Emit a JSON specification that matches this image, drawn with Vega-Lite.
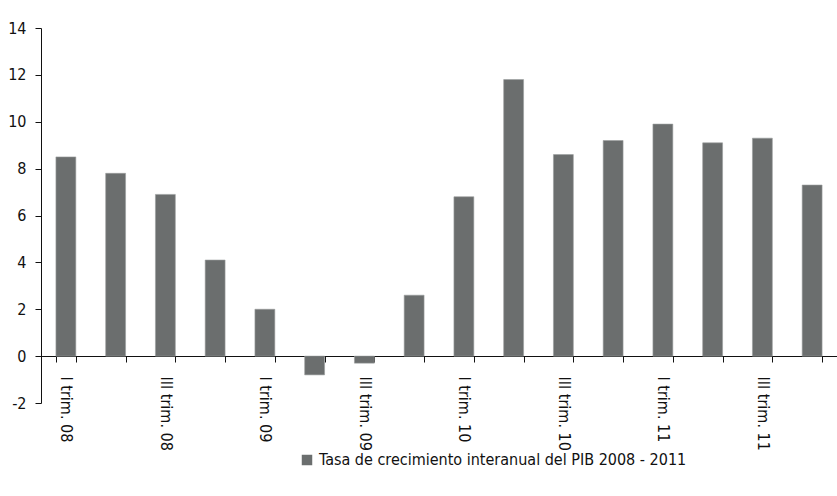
{
  "$schema": "https://vega.github.io/schema/vega-lite/v6.json",
  "width": 796,
  "height": 375,
  "autosize": "none",
  "padding": {"left": 41, "top": 28, "right": 0, "bottom": 93},
  "background": "white",
  "config": {
    "view": {"stroke": null},
    "font": "DejaVu Sans Condensed, Roboto, sans-serif",
    "axis": {"labelFont": "DejaVu Sans Condensed, Roboto, sans-serif", "labelFontSize": 16, "labelColor": "#111", "domainColor": "#111", "tickColor": "#111", "grid": false, "title": null}
  },
  "data": {
    "values": [
      {"trimestre": "I trim. 08", "valor": 8.5},
      {"trimestre": "II trim. 08", "valor": 7.8},
      {"trimestre": "III trim. 08", "valor": 6.9},
      {"trimestre": "IV trim. 08", "valor": 4.1},
      {"trimestre": "I trim. 09", "valor": 2.0},
      {"trimestre": "II trim. 09", "valor": -0.8},
      {"trimestre": "III trim. 09", "valor": -0.3},
      {"trimestre": "IV trim. 09", "valor": 2.6},
      {"trimestre": "I trim. 10", "valor": 6.8},
      {"trimestre": "II trim. 10", "valor": 11.8},
      {"trimestre": "III trim. 10", "valor": 8.6},
      {"trimestre": "IV trim. 10", "valor": 9.2},
      {"trimestre": "I trim. 11", "valor": 9.9},
      {"trimestre": "II trim. 11", "valor": 9.1},
      {"trimestre": "III trim. 11", "valor": 9.3},
      {"trimestre": "IV trim. 11", "valor": 7.3}
    ]
  },
  "transform": [{"calculate": "'Tasa de crecimiento interanual del PIB 2008 - 2011'", "as": "serie"}],
  "mark": {"type": "bar", "stroke": "#9a9d9d", "strokeWidth": 0.6},
  "encoding": {
    "x": {
      "field": "trimestre",
      "type": "nominal",
      "sort": null,
      "scale": {"paddingInner": 0.6, "paddingOuter": 0.3},
      "axis": {
        "offset": -47,
        "labelAngle": 90,
        "tickBand": "extent",
        "tickSize": 6,
        "labelPadding": 14,
        "labelExpr": "test(/^(I|III) trim/, datum.label) ? datum.label : ''"
      }
    },
    "y": {
      "field": "valor",
      "type": "quantitative",
      "scale": {"domain": [-2, 14], "nice": false},
      "axis": {
        "values": [-2, 0, 2, 4, 6, 8, 10, 12, 14],
        "tickSize": 6,
        "labelPadding": 9,
        "labelExpr": "datum.value < 0 ? '-' + abs(datum.value) : datum.label"
      }
    },
    "color": {
      "field": "serie",
      "type": "nominal",
      "scale": {"range": ["#6b6e6e"]},
      "legend": {
        "title": null,
        "orient": "none",
        "legendX": 258,
        "legendY": 424,
        "symbolType": "square",
        "symbolSize": 110,
        "symbolStrokeWidth": 0,
        "labelFont": "DejaVu Sans Condensed, Roboto, sans-serif",
        "labelFontSize": 16,
        "labelColor": "#111",
        "labelLimit": 500
      }
    }
  }
}
